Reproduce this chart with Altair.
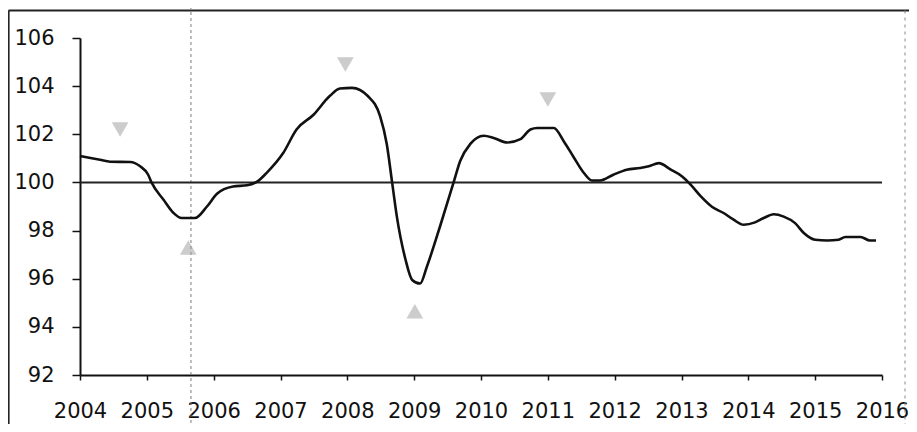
import altair as alt
import pandas as pd

# Curve readings (decimal year, index value)
years = [2004.00, 2004.30, 2004.45, 2004.75, 2004.90, 2005.02, 2005.07, 2005.25, 2005.40,
         2005.52, 2005.72, 2005.90, 2006.05, 2006.29, 2006.50, 2006.65, 2006.79, 2007.04,
         2007.24, 2007.49, 2007.74, 2007.89, 2008.07, 2008.31, 2008.49, 2008.59, 2008.67,
         2008.74, 2008.87, 2008.97, 2009.09, 2009.19, 2009.39, 2009.59, 2009.69, 2009.84,
         2010.04, 2010.19, 2010.39, 2010.59, 2010.74, 2010.84, 2011.09, 2011.24, 2011.38,
         2011.54, 2011.66, 2011.78, 2011.98, 2012.18, 2012.38, 2012.51, 2012.66, 2012.84,
         2013.01, 2013.14, 2013.29, 2013.46, 2013.63, 2013.78, 2013.93, 2014.10, 2014.23,
         2014.38, 2014.53, 2014.70, 2014.83, 2015.00, 2015.18, 2015.35, 2015.45, 2015.68,
         2015.82, 2015.91]
values = [101.10, 100.94, 100.86, 100.85, 100.67, 100.32, 100.00, 99.28, 98.73,
          98.52, 98.52, 99.00, 99.53, 99.83, 99.88, 100.03, 100.39, 101.22,
          102.20, 102.80, 103.60, 103.90, 103.93, 103.58, 102.75, 101.60, 100.00,
          98.60, 96.80, 95.95, 95.80, 96.50, 98.20, 100.00, 100.90, 101.60,
          101.94, 101.85, 101.66, 101.80, 102.20, 102.26, 102.26, 101.70, 101.08,
          100.39, 100.08, 100.08, 100.32, 100.53, 100.60, 100.67, 100.80, 100.53,
          100.25, 99.90, 99.42, 98.98, 98.73, 98.45, 98.24, 98.34, 98.52,
          98.68, 98.58, 98.31, 97.90, 97.62, 97.59, 97.62, 97.73, 97.73,
          97.59, 97.59]

# Turning-point markers
peak_years = [2004.60, 2007.97, 2011.00]
peak_values = [102.2, 104.9, 103.45]
trough_years = [2005.62, 2009.01]
trough_values = [97.3, 94.65]

# Reference level and tick labels
reference_level = [100]
tick_years = list(range(2004, 2017))
y_ticks = [92, 94, 96, 98, 100, 102, 104, 106]
fold_line_year = [2005.66]

line_df = pd.DataFrame({"year": years, "value": values})
peak_df = pd.DataFrame({"year": peak_years, "value": peak_values})
trough_df = pd.DataFrame({"year": trough_years, "value": trough_values})
ref_df = pd.DataFrame({"value": reference_level})
fold_df = pd.DataFrame({"year": fold_line_year})

FONT = "DejaVu Sans"

xscale = alt.Scale(domain=[2004, 2016], nice=False, zero=False)
yscale = alt.Scale(domain=[92, 106], nice=False, zero=False)

x_axis = alt.Axis(values=tick_years, format="d", title=None, grid=False,
                  tickSize=5, labelPadding=20, labelFontSize=21, labelFont=FONT,
                  labelColor="#111", domainColor="#111", domainWidth=2,
                  tickColor="#111", tickWidth=1.5, labelFlush=False)
y_axis = alt.Axis(values=y_ticks, title=None, grid=False,
                  tickSize=8, labelPadding=18, labelFontSize=21, labelFont=FONT,
                  labelColor="#111", domainColor="#111", domainWidth=2,
                  tickColor="#111", tickWidth=1.5)

base_line = alt.Chart(line_df).mark_line(
    color="#111", strokeWidth=2.6, interpolate="monotone"
).encode(
    x=alt.X("year:Q", scale=xscale, axis=x_axis),
    y=alt.Y("value:Q", scale=yscale, axis=y_axis),
)

ref_rule = alt.Chart(ref_df).mark_rule(color="#222", strokeWidth=2).encode(
    y=alt.Y("value:Q", scale=yscale)
)

fold_rule = alt.Chart(fold_df).mark_rule(
    color="#777", strokeWidth=1.2, strokeDash=[3, 3], opacity=0.8
).encode(
    x=alt.X("year:Q", scale=xscale),
    y=alt.value(-38),
    y2=alt.value(386),
)

peaks = alt.Chart(peak_df).mark_point(
    shape="triangle-down", filled=True, color="#9a9a9a", size=280, opacity=0.5
).encode(
    x=alt.X("year:Q", scale=xscale),
    y=alt.Y("value:Q", scale=yscale),
)

troughs = alt.Chart(trough_df).mark_point(
    shape="triangle-up", filled=True, color="#9a9a9a", size=280, opacity=0.5
).encode(
    x=alt.X("year:Q", scale=xscale),
    y=alt.Y("value:Q", scale=yscale),
)

# Outer frame (decoration)
top_border = alt.Chart(ref_df).mark_rule(color="#222", strokeWidth=2.2).encode(
    x=alt.value(-71.5), x2=alt.value(829), y=alt.value(-27.5)
)
left_border = alt.Chart(ref_df).mark_rule(color="#222", strokeWidth=2.2).encode(
    x=alt.value(-71.5), y=alt.value(-27.5), y2=alt.value(386)
)
right_border = alt.Chart(ref_df).mark_rule(
    color="#888", strokeWidth=1, strokeDash=[3, 4]
).encode(
    x=alt.value(825), y=alt.value(-27.5), y2=alt.value(386)
)

chart = alt.layer(
    fold_rule, ref_rule, peaks, troughs, base_line,
    top_border, left_border, right_border
).properties(
    width=802, height=337,
    padding={"left": 72, "top": 30, "right": 27, "bottom": 49},
    autosize=alt.AutoSizeParams(type="none"),
    background="white",
).configure_view(stroke=None)

chart.save("out.html", embed_options={"renderer": "svg", "actions": False})
